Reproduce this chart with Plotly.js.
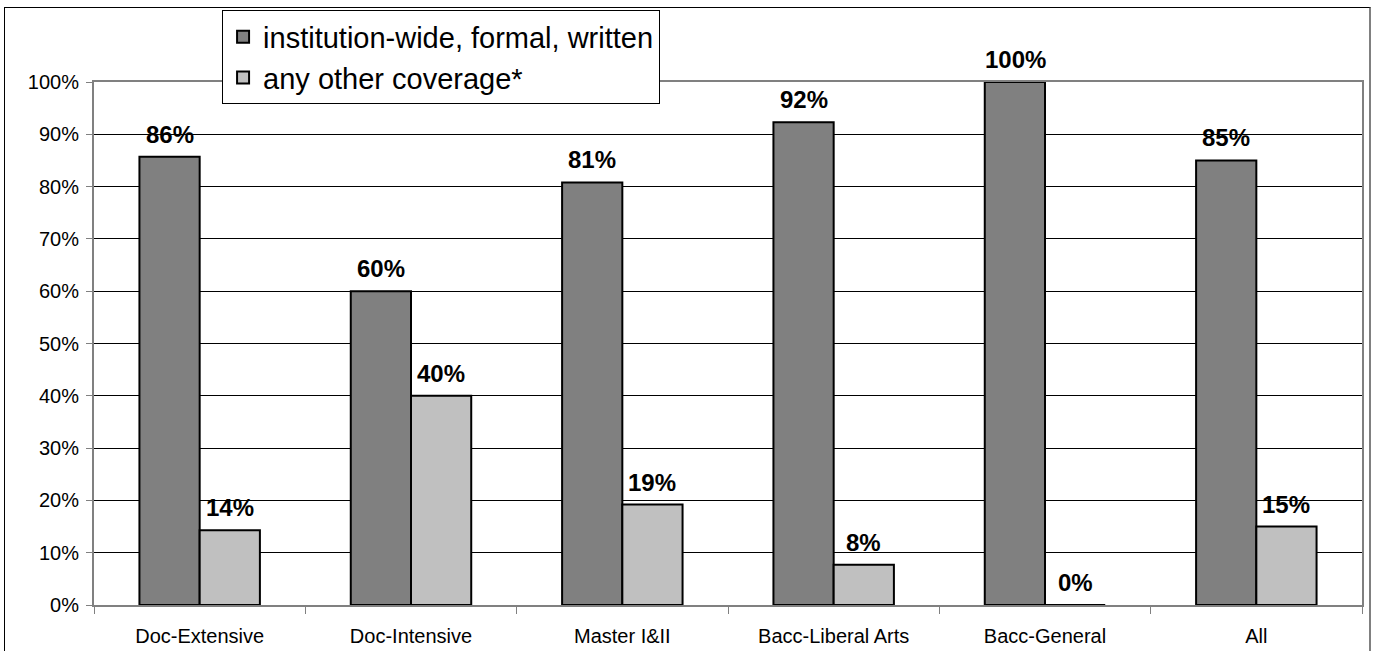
<!DOCTYPE html>
<html>
<head>
<meta charset="utf-8">
<script src="https://cdn.plot.ly/plotly-3.0.1.min.js"></script>
<style>
html,body{margin:0;padding:0;background:#fff;overflow:hidden;}
#frame{position:absolute;left:4px;top:7px;width:1367px;height:660px;border-top:1px solid #000;border-left:1px solid #000;border-right:2px solid #808080;box-sizing:border-box;pointer-events:none;z-index:10;}
#chart{position:absolute;left:0;top:0;width:1374px;height:651px;}
</style>
</head>
<body>
<div id="chart"></div>
<div id="frame"></div>
<script>
const categories = ["Doc-Extensive", "Doc-Intensive", "Master I&II", "Bacc-Liberal Arts", "Bacc-General", "All"];
const formalValues = [0.857, 0.60, 0.808, 0.923, 1.00, 0.85];
const otherValues = [0.143, 0.40, 0.192, 0.077, 0.00, 0.15];
const formalLabels = ["86%", "60%", "81%", "92%", "100%", "85%"];
const otherLabels = ["14%", "40%", "19%", "8%", "0%", "15%"];
const seriesNames = ["institution-wide, formal, written", "any other coverage*"];
const yTickVals = [0, 0.1, 0.2, 0.3, 0.4, 0.5, 0.6, 0.7, 0.8, 0.9, 1.0];
const yTickText = ["0%", "10%", "20%", "30%", "40%", "50%", "60%", "70%", "80%", "90%", "100%"];

const FONT = "Arial, 'Liberation Sans', sans-serif";

const traces = [
  {type: "bar", name: seriesNames[0], x: categories, y: formalValues,
   marker: {color: "#808080", line: {color: "#000", width: 2}},
   hoverinfo: "skip"},
  {type: "bar", name: seriesNames[1], x: categories, y: otherValues,
   marker: {color: "#c0c0c0", line: {color: "#000", width: 2}},
   hoverinfo: "skip"}
];

const annotations = [];
categories.forEach((c, i) => {
  annotations.push({x: c, y: formalValues[i], xref: "x", yref: "y", text: formalLabels[i],
    showarrow: false, yanchor: "bottom", yshift: 7, xshift: -30,
    font: {family: FONT, size: 24, color: "#000", weight: "bold"}});
  annotations.push({x: c, y: otherValues[i], xref: "x", yref: "y", text: otherLabels[i],
    showarrow: false, yanchor: "bottom", yshift: 7, xshift: 30,
    font: {family: FONT, size: 24, color: "#000", weight: "bold"}});
});

const layout = {
  width: 1374, height: 651,
  margin: {l: 94, r: 12, t: 82, b: 46, autoexpand: false},
  paper_bgcolor: "#fff", plot_bgcolor: "#fff",
  font: {family: FONT, color: "#000", size: 20},
  barmode: "group", bargap: 0.43, bargroupgap: 0,
  showlegend: true,
  legend: {x: 0.101, y: 1.137, xanchor: "left", yanchor: "top",
    bgcolor: "#fff", bordercolor: "#000", borderwidth: 1,
    font: {family: FONT, size: 29, color: "#000"},
    traceorder: "normal", itemwidth: 30},
  xaxis: {type: "category", showline: true, linecolor: "#808080", linewidth: 2, mirror: true,
    ticks: "outside", tickson: "boundaries", ticklen: 7, tickcolor: "#808080", tickwidth: 1,
    ticklabelstandoff: 12,
    tickfont: {family: FONT, size: 20, color: "#000"}, showgrid: false, fixedrange: true},
  yaxis: {range: [0, 1.0], tickvals: yTickVals, ticktext: yTickText,
    showline: true, linecolor: "#808080", linewidth: 2, mirror: true,
    ticks: "outside", ticklen: 6, tickcolor: "#808080", ticklabelstandoff: 3,
    showgrid: true, gridcolor: "#000", gridwidth: 1, zeroline: false,
    tickfont: {family: FONT, size: 20, color: "#000"}, fixedrange: true},
  annotations: annotations
};

Plotly.newPlot("chart", traces, layout, {staticPlot: true, displayModeBar: false});
</script>
</body>
</html>
